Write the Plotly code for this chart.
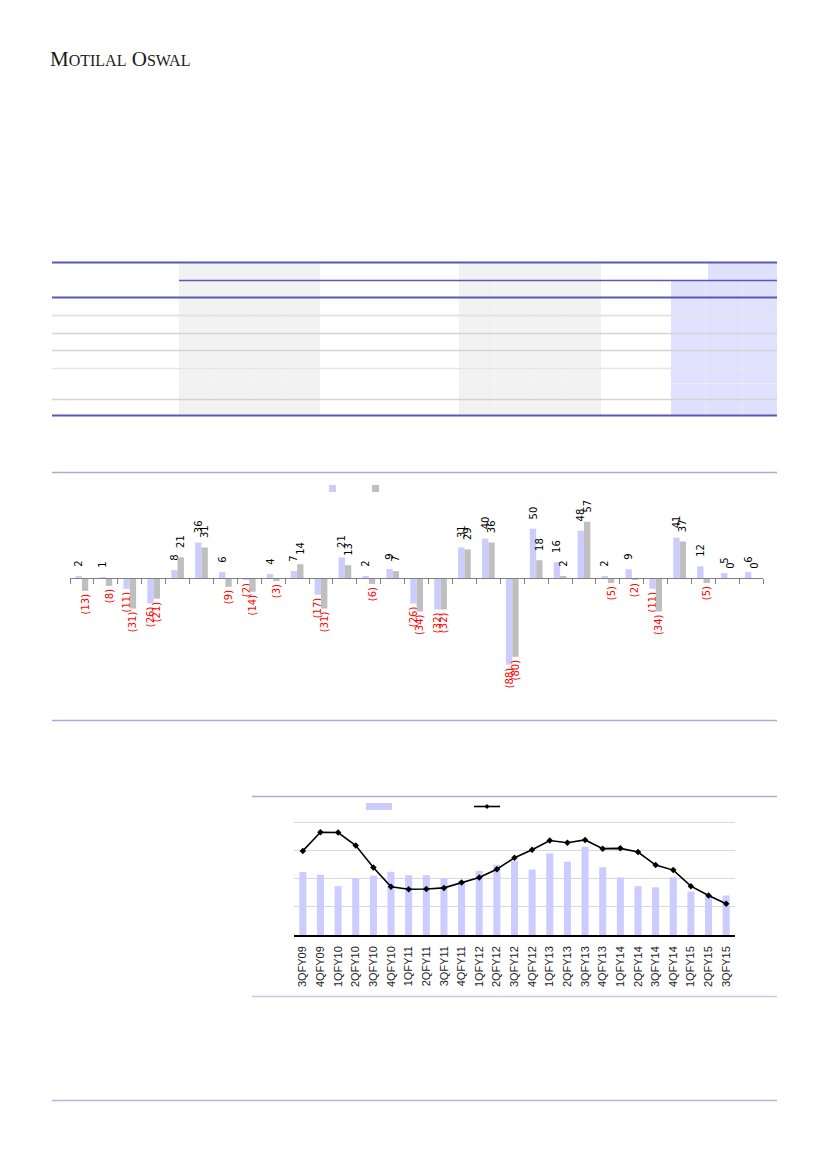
import plotly.graph_objects as go

W, H = 827, 1169

def px(x):
    return x / W

def py(y):
    return 1 - y / H

# ---------------- data ----------------
# grouped bar chart (29 groups, two series)
group_idx = list(range(29))
series_a = [2, 1, -11, -26, 8, 36, 6, -2, 4, 7, -17, 21, 2, 9, -26, -32, 31, 40, -88, 50, 16, 48, 2, 9, -11, 41, 12, 5, 6]
series_b = [-13, -8, -31, -21, 21, 31, -9, -14, -3, 14, -31, 13, -6, 7, -34, -32, 29, 36, -80, 18, 2, 57, -5, -2, -34, 37, -5, 0, 0]

# bar + line chart
quarters = ["3QFY09", "4QFY09", "1QFY10", "2QFY10", "3QFY10", "4QFY10", "1QFY11", "2QFY11",
            "3QFY11", "4QFY11", "1QFY12", "2QFY12", "3QFY12", "4QFY12", "1QFY13", "2QFY13",
            "3QFY13", "4QFY13", "1QFY14", "2QFY14", "3QFY14", "4QFY14", "1QFY15", "2QFY15", "3QFY15"]
bar_vals = [2.23, 2.14, 1.73, 2.02, 2.10, 2.24, 2.12, 2.12, 2.02, 1.90, 2.27, 2.49, 2.63,
            2.32, 2.89, 2.60, 3.13, 2.40, 2.04, 1.73, 1.69, 2.05, 1.54, 1.40, 1.40]
line_vals = [2.98, 3.64, 3.63, 3.17, 2.39, 1.71, 1.62, 1.63, 1.67, 1.86, 2.04, 2.33, 2.74,
             3.02, 3.35, 3.27, 3.37, 3.06, 3.07, 2.94, 2.48, 2.30, 1.73, 1.40, 1.11]

BLUE = "#CCCCFF"
GRAY = "#BFBFBF"
PAD = "\u00a0\u00a0"

def fmt(v):
    return f"({abs(v)})" if v < 0 else PAD + str(v)

def colr(v):
    return "#FF0000" if v < 0 else "#000000"

fig = go.Figure()

for vals, col in ((series_a, BLUE), (series_b, GRAY)):
    fig.add_trace(go.Bar(
        x=group_idx, y=vals, marker=dict(color=col, line=dict(width=0)),
        text=[fmt(v) for v in vals], textposition="outside", textangle=-90,
        textfont=dict(family="DejaVu Sans", size=10, color=[colr(v) for v in vals]),
        cliponaxis=False, constraintext="none",
        xaxis="x", yaxis="y", showlegend=False))

fig.add_trace(go.Bar(
    x=quarters, y=bar_vals, width=0.4, marker=dict(color=BLUE, line=dict(width=0)),
    xaxis="x2", yaxis="y2", showlegend=False))
fig.add_trace(go.Scatter(
    x=quarters, y=line_vals, mode="lines+markers",
    line=dict(color="#000000", width=1.6),
    marker=dict(symbol="diamond", size=5, color="#000000"),
    xaxis="x2", yaxis="y2", showlegend=False, cliponaxis=False))

# ---------- axes for grouped bar chart ----------
y_dom = [py(720), py(488)]
y_rng = [-144.2, 91.4]
zero_pos = y_dom[0] + (0 - y_rng[0]) / (y_rng[1] - y_rng[0]) * (y_dom[1] - y_dom[0])

layout = dict(
    width=W, height=H, margin=dict(l=0, r=0, t=0, b=0),
    paper_bgcolor="white", plot_bgcolor="rgba(0,0,0,0)",
    barmode="group", bargap=0.47, bargroupgap=0,
    xaxis=dict(domain=[px(70), px(763.3)], range=[-0.5, 28.5], anchor="free", position=zero_pos,
               showline=True, linecolor="#808080", linewidth=1, ticks="outside", ticklen=5,
               tickcolor="#808080", tick0=-0.5, dtick=1, showticklabels=False,
               showgrid=False, zeroline=False, fixedrange=True),
    yaxis=dict(domain=y_dom, range=y_rng, showticklabels=False, showgrid=False,
               zeroline=False, anchor="x"),
    xaxis2=dict(domain=[px(294), px(735)], anchor="y2", type="category",
                range=[-0.5, len(quarters) - 0.5],
                showline=True, linecolor="#000000", linewidth=1.5, ticks="",
                tickangle=-90, tickfont=dict(family="Liberation Sans", size=11, color="#222222"),
                ticklabelstandoff=5, showgrid=False),
    yaxis2=dict(domain=[py(935), py(821)], range=[0, 4.04], tick0=0, dtick=1, anchor="x2",
                showticklabels=False, showgrid=True, gridcolor="#D9D9D9", gridwidth=1,
                zeroline=False),
)

shapes = []

def rect(x0, y0, x1, y1, fill):
    shapes.append(dict(type="rect", xref="paper", yref="paper", x0=px(x0), x1=px(x1),
                       y0=py(y1), y1=py(y0), fillcolor=fill, line=dict(width=0), layer="below"))

def hline(x0, x1, y, color, w):
    shapes.append(dict(type="line", xref="paper", yref="paper", x0=px(x0), x1=px(x1),
                       y0=py(y), y1=py(y), line=dict(color=color, width=w)))

def vline(x, y0, y1, color, w):
    shapes.append(dict(type="line", xref="paper", yref="paper", x0=px(x), x1=px(x),
                       y0=py(y0), y1=py(y1), line=dict(color=color, width=w)))

# table shading
rect(179, 263, 320, 415, "#F2F2F2")
rect(459, 263, 601, 415, "#F2F2F2")
rect(708, 263, 777, 280, "#E0E0FF")
rect(671, 281, 777, 415, "#E0E0FF")
for xv in (214, 250, 285, 495, 530, 566, 706, 742):
    vline(xv, 281, 415, "rgba(255,255,255,0.35)", 1)
hline(179, 777, 383.5, "rgba(255,255,255,0.35)", 1)

PURP = "#5858B8"
hline(52, 777, 262.5, PURP, 2)
hline(179, 777, 280.5, PURP, 1.6)
hline(52, 777, 297.5, PURP, 2)
hline(52, 777, 315.5, "#E4E4E4", 2)
for yv in (333, 350, 399):
    hline(52, 777, yv + 0.5, "#D4D4D4", 1.3)
hline(52, 777, 368.5, "#E6E6E6", 1.3)
hline(52, 777, 415.5, PURP, 2)

# section separators
LIGHT = "#ABABD8"
hline(52, 777, 472.5, LIGHT, 1.6)
hline(52, 777, 720.5, LIGHT, 1.6)
hline(252, 777, 796.5, LIGHT, 1.6)
hline(252, 777, 996.5, "#C8C8E8", 1.6)
hline(52, 777, 1100.5, "#B4B4E4", 1.6)

# legend markers (bar chart)
rect(329, 485, 336, 492, BLUE)
rect(372, 485, 379, 492, GRAY)
# legend markers (bottom chart)
rect(366, 803, 392, 810, BLUE)
hline(474, 500, 806.5, "#000000", 1.6)
cx, cy = 487, 806.5
shapes.append(dict(type="path", xref="paper", yref="paper",
                   path=f"M {px(cx-2.5)},{py(cy)} L {px(cx)},{py(cy-2.5)} L {px(cx+2.5)},{py(cy)} L {px(cx)},{py(cy+2.5)} Z",
                   fillcolor="#000000", line=dict(width=0)))

layout["shapes"] = shapes

layout["annotations"] = [dict(
    xref="paper", yref="paper", x=px(48), y=py(59), xanchor="left", yanchor="middle",
    text="M<span style='font-size:16px'>OTILAL</span> O<span style='font-size:16px'>SWAL</span>",
    showarrow=False, font=dict(family="Liberation Serif", size=21, color="#1A1A1A"))]

fig.update_layout(**layout)
fig.write_html("out.html")
